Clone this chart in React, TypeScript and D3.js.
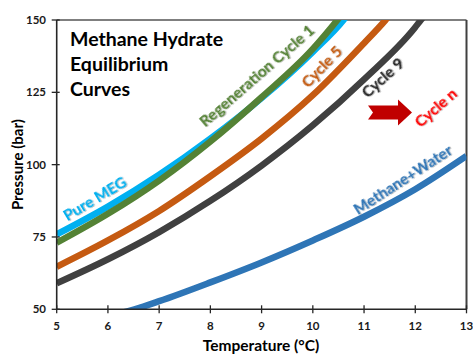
import React from "react";
import * as d3 from "d3";

const W = 473;
const H = 354;

// Temperature (°C) / Pressure (bar)
const pureMegT = [5, 6, 7, 8, 9, 10, 10.6, 11];
const pureMegP = [75.9, 85.5, 96.5, 109, 123, 139, 150, 160];
const regen1T = [5, 6, 7, 8, 9, 10, 10.48, 11];
const regen1P = [73, 83, 94.5, 108, 123.3, 140, 150, 162];
const cycle5T = [5, 6, 7, 8, 9, 10, 11, 11.42, 12];
const cycle5P = [64.7, 73.8, 84, 96, 109, 124, 142, 150, 163];
const cycle9T = [5, 6, 7, 8, 9, 10, 11, 12, 12.11, 12.6];
const cycle9P = [59, 67.3, 76.7, 87.5, 99.7, 113.6, 129.5, 147.5, 150, 158];
const waterT = [6.0, 6.52, 7, 8, 9, 10, 11, 12, 13];
const waterP = [47.6, 50, 52.8, 59.3, 66.2, 73.8, 82, 91.5, 103];

const xTicks = [5, 6, 7, 8, 9, 10, 11, 12, 13];
const yTicks = [50, 75, 100, 125, 150];
const titleLines = ["Methane Hydrate", "Equilibrium", "Curves"];

const FONT = "Lato, 'Open Sans', sans-serif";

const margin = { left: 56.7, right: 6.5, top: 20, bottom: 44.7 };
const x = d3.scaleLinear().domain([5, 13]).range([margin.left, W - margin.right]);
const y = d3.scaleLinear().domain([50, 150]).range([H - margin.bottom, margin.top]);

const line = d3
  .line<[number, number]>()
  .x((d) => x(d[0]))
  .y((d) => y(d[1]))
  .curve(d3.curveMonotoneX);

const zip = (t: number[], p: number[]) => t.map((v, i) => [v, p[i]] as [number, number]);

const series = [
  { name: "Methane+Water", t: waterT, p: waterP, color: "#2E75B6" },
  { name: "Pure MEG", t: pureMegT, p: pureMegP, color: "#00B0F0" },
  { name: "Regeneration Cycle 1", t: regen1T, p: regen1P, color: "#548235" },
  { name: "Cycle 5", t: cycle5T, p: cycle5P, color: "#C55A11" },
  { name: "Cycle 9", t: cycle9T, p: cycle9P, color: "#404040" },
];

const labels = [
  { text: "Pure MEG", cx: 95, cy: 199, angle: -31, color: "#00B0F0", size: 15.5 },
  { text: "Regeneration Cycle 1", cx: 257, cy: 76, angle: -41, color: "#548235", size: 15.5 },
  { text: "Cycle 5", cx: 322, cy: 67, angle: -46, color: "#C55A11", size: 15.5 },
  { text: "Cycle 9", cx: 383, cy: 78, angle: -42, color: "#262626", size: 15.5 },
  { text: "Cycle n", cx: 436, cy: 108, angle: -41, color: "#FF0000", size: 15.5 },
  { text: "Methane+Water", cx: 403, cy: 180, angle: -33, color: "#2E75B6", size: 15.5 },
];

export default function App() {
  const x0 = x(5), x1 = x(13), y0 = y(50), y1 = y(150);
  // red block arrow
  const ax = 368, ay = 112.5;
  const arrow = `M${ax},${ay - 7} L${ax + 30},${ay - 7} L${ax + 30},${ay - 13} L${ax + 44},${ay} L${ax + 30},${ay + 13} L${ax + 30},${ay + 7} L${ax},${ay + 7} L${ax + 5},${ay} Z`;
  return (
    <svg
      width={W}
      height={H}
      style={{ position: "absolute", left: 0, top: 0, background: "#fff" }}
      fontFamily={FONT}
    >
      <defs>
        <clipPath id="plot">
          <rect x={x0} y={y1} width={x1 - x0} height={y0 - y1} />
        </clipPath>
        <filter id="shadow" x="-10%" y="-30%" width="120%" height="160%">
          <feDropShadow dx="0.8" dy="0.8" stdDeviation="0.6" floodColor="#000" floodOpacity="0.35" />
        </filter>
      </defs>
      <rect x={0} y={0} width={W} height={H} fill="#fff" />
      {/* frame top/right */}
      <line x1={x0} x2={x1} y1={y1} y2={y1} stroke="#7f7f7f" strokeWidth={2} />
      <line x1={x1} x2={x1} y1={y1} y2={y0} stroke="#404040" strokeWidth={2} />
      {/* curves */}
      <g clipPath="url(#plot)">
        {series.map((s) => (
          <path
            key={s.name}
            d={line(zip(s.t, s.p)) || ""}
            fill="none"
            stroke={s.color}
            strokeWidth={6.5}
          />
        ))}
      </g>
      {/* axes */}
      <line x1={x0} x2={x1} y1={y0} y2={y0} stroke="#262626" strokeWidth={1.6} />
      <line x1={x0} x2={x0} y1={y1} y2={y0} stroke="#262626" strokeWidth={1.6} />
      {xTicks.map((t) => (
        <g key={"x" + t}>
          <line x1={x(t)} x2={x(t)} y1={y0 - 4} y2={y0 + 4} stroke="#262626" strokeWidth={1.3} />
          <text x={x(t)} y={330} textAnchor="middle" fontSize={11.5} fontWeight={700} fill="#1a1a1a">
            {t}
          </text>
        </g>
      ))}
      {yTicks.map((t) => (
        <g key={"y" + t}>
          <line x1={x0 - 5} x2={x0 + 3} y1={y(t)} y2={y(t)} stroke="#262626" strokeWidth={1.3} />
          <text x={46} y={y(t)} dy="0.35em" textAnchor="end" fontSize={11.5} fontWeight={700} fill="#1a1a1a">
            {t}
          </text>
        </g>
      ))}
      <text
        transform={`translate(23,${(y0 + y1) / 2}) rotate(-90)`}
        textAnchor="middle"
        fontSize={15}
        fontWeight={700}
        fill="#000"
      >
        Pressure (bar)
      </text>
      <text x={261} y={351} textAnchor="middle" fontSize={15.5} fontWeight={700} fill="#000">
        Temperature (°C)
      </text>
      {/* title */}
      {titleLines.map((l, i) => (
        <text key={l} x={70} y={46 + i * 25} fontSize={19.5} fontWeight={700} fill="#000">
          {l}
        </text>
      ))}
      {/* labels */}
      {labels.map((l) => (
        <text
          key={l.text}
          transform={`translate(${l.cx},${l.cy}) rotate(${l.angle})`}
          textAnchor="middle"
          dy="0.35em"
          fontSize={l.size}
          fontWeight={700}
          fill={l.color}
          filter="url(#shadow)"
        >
          {l.text}
        </text>
      ))}
      <path d={arrow} fill="#C00000" />
    </svg>
  );
}
